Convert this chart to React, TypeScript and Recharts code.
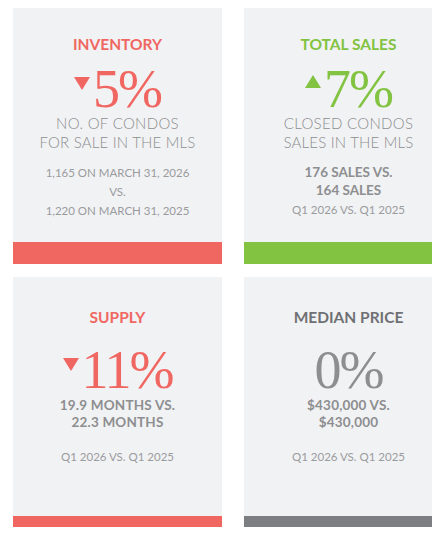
import React from "react";
import { BarChart, Bar, XAxis, YAxis } from "recharts";

const titles = ["INVENTORY", "TOTAL SALES", "SUPPLY", "MEDIAN PRICE"];
const changes = [-5, 7, -11, 0];
const subtitles = [
  ["NO. OF CONDOS", "FOR SALE IN THE MLS"],
  ["CLOSED CONDOS", "SALES IN THE MLS"],
  [],
  [],
];
const comparisons = [
  ["1,165 ON MARCH 31, 2026", "VS.", "1,220 ON MARCH 31, 2025"],
  ["176 SALES VS.", "164 SALES"],
  ["19.9 MONTHS VS.", "22.3 MONTHS"],
  ["$430,000 VS.", "$430,000"],
];
const periods = ["", "Q1 2026 VS. Q1 2025", "Q1 2026 VS. Q1 2025", "Q1 2026 VS. Q1 2025"];
// each strip is a full-width bar (share of the card = 1)
const stripShares = [1, 1, 1, 1];

const RED = "#f06762";
const GREEN = "#82c341";
const DARK = "#6f7073";
const GREY = "#8d8e90";
const LIGHT = "#9a9b9d";
const BG = "#f1f2f4";

const SANS = "Lato, 'Open Sans', sans-serif";
const SERIF = "'Liberation Serif', 'DejaVu Serif', serif";

const CARD_W = 209;
const STRIP_H = 22;

type LineProps = {
  y: number;
  size: number;
  weight?: number;
  color: string;
  spacing?: number;
  children: React.ReactNode;
};

const Line = ({ y, size, weight = 400, color, spacing = 0, children }: LineProps) => (
  <div
    style={{
      position: "absolute",
      left: 0,
      width: CARD_W,
      top: y - 0.63 * size,
      textAlign: "center",
      fontFamily: SANS,
      fontSize: size,
      fontWeight: weight,
      letterSpacing: spacing,
      lineHeight: `${1.2 * size}px`,
      color,
      whiteSpace: "nowrap",
    }}
  >
    {children}
  </div>
);

const Arrow = ({ up, color, top }: { up: boolean; color: string; top: number }) => (
  <svg width={16} height={13} style={{ marginTop: top, marginRight: 3 }}>
    <polygon points={up ? "8,0 16,13 0,13" : "0,0 16,0 8,13"} fill={color} />
  </svg>
);

const BigNumber = ({ value, color, top }: { value: number; color: string; top: number }) => (
  <div
    style={{
      position: "absolute",
      left: 0,
      width: CARD_W,
      top,
      display: "flex",
      justifyContent: "center",
      alignItems: "flex-start",
    }}
  >
    {value !== 0 && <Arrow up={value > 0} color={color} top={value > 0 ? 9 : 11} />}
    <span
      style={{
        fontFamily: SERIF,
        fontSize: 54,
        lineHeight: "46px",
        color,
        letterSpacing: -2,
      }}
    >
      {Math.abs(value)}%
    </span>
  </div>
);

const Strip = ({ index, color, top }: { index: number; color: string; top: number }) => (
  <div style={{ position: "absolute", left: 0, top }}>
    <BarChart
      width={CARD_W}
      height={STRIP_H}
      layout="vertical"
      data={[{ name: titles[index], share: stripShares[index] }]}
      margin={{ top: 0, right: 0, bottom: 0, left: 0 }}
      barCategoryGap={0}
    >
      <XAxis type="number" domain={[0, 1]} hide />
      <YAxis type="category" dataKey="name" hide />
      <Bar dataKey="share" fill={color} isAnimationActive={false} />
    </BarChart>
  </div>
);

const Card = ({ x, y, h, children }: { x: number; y: number; h: number; children: React.ReactNode }) => (
  <div
    style={{
      position: "absolute",
      left: x,
      top: y,
      width: CARD_W,
      height: h,
      background: BG,
    }}
  >
    {children}
  </div>
);

export default function App() {
  return (
    <div
      style={{
        position: "relative",
        width: 440,
        height: 535,
        margin: -8,
        overflow: "hidden",
        background: "#ffffff",
      }}
    >
      <Card x={13} y={4} h={260}>
        <Line y={41} size={15.5} weight={700} color={RED}>{titles[0]}</Line>
        <BigNumber value={changes[0]} color={RED} top={62} />
        <Line y={119} size={15} weight={300} color={GREY} spacing={0.3}>{subtitles[0][0]}</Line>
        <Line y={138} size={15} weight={300} color={GREY} spacing={0.2}>{subtitles[0][1]}</Line>
        <Line y={169} size={11.5} color={LIGHT}>{comparisons[0][0]}</Line>
        <Line y={188} size={11.5} color={LIGHT}>{comparisons[0][1]}</Line>
        <Line y={207} size={11.5} color={LIGHT}>{comparisons[0][2]}</Line>
        <Strip index={0} color={RED} top={238} />
      </Card>

      <Card x={244} y={4} h={260}>
        <Line y={41} size={15.5} weight={700} color={GREEN}>{titles[1]}</Line>
        <BigNumber value={changes[1]} color={GREEN} top={62} />
        <Line y={119} size={15} weight={300} color={GREY} spacing={0.3}>{subtitles[1][0]}</Line>
        <Line y={138} size={15} weight={300} color={GREY} spacing={0.2}>{subtitles[1][1]}</Line>
        <Line y={169} size={13.5} weight={700} color={GREY}>{comparisons[1][0]}</Line>
        <Line y={187} size={13.5} weight={700} color={GREY}>{comparisons[1][1]}</Line>
        <Line y={206} size={11.5} color={LIGHT}>{periods[1]}</Line>
        <Strip index={1} color={GREEN} top={238} />
      </Card>

      <Card x={13} y={277} h={261}>
        <Line y={41} size={15.5} weight={700} color={RED}>{titles[2]}</Line>
        <BigNumber value={changes[2]} color={RED} top={70} />
        <Line y={129} size={13.5} weight={700} color={GREY} spacing={0.2}>{comparisons[2][0]}</Line>
        <Line y={146} size={13.5} weight={700} color={GREY} spacing={0.2}>{comparisons[2][1]}</Line>
        <Line y={180} size={11.5} color={LIGHT}>{periods[2]}</Line>
        <Strip index={2} color={RED} top={239} />
      </Card>

      <Card x={244} y={277} h={261}>
        <Line y={41} size={15.5} weight={700} color={DARK}>{titles[3]}</Line>
        <BigNumber value={changes[3]} color={GREY} top={70} />
        <Line y={129} size={13.5} weight={700} color={GREY} spacing={0.2}>{comparisons[3][0]}</Line>
        <Line y={146} size={13.5} weight={700} color={GREY} spacing={0.2}>{comparisons[3][1]}</Line>
        <Line y={180} size={11.5} color={LIGHT}>{periods[3]}</Line>
        <Strip index={3} color="#7d7e82" top={239} />
      </Card>
    </div>
  );
}
